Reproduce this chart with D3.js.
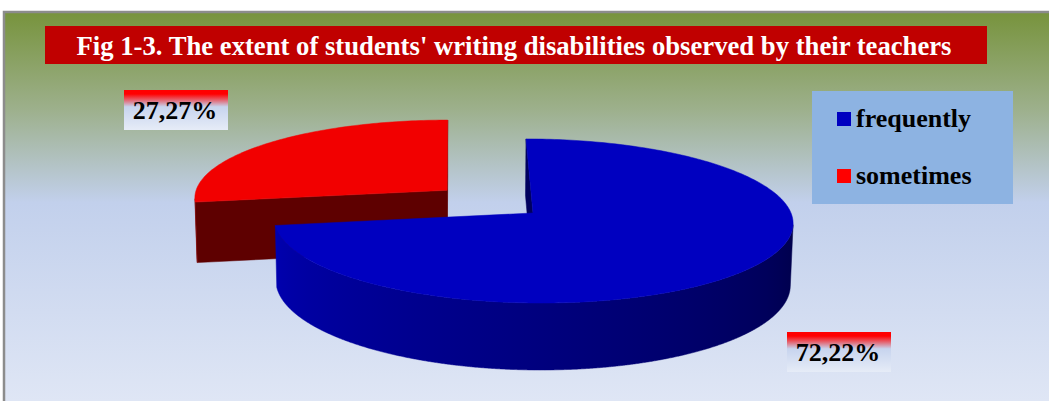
<!DOCTYPE html>
<html><head><meta charset="utf-8">
<script src="https://cdn.jsdelivr.net/npm/d3@7"></script>
<style>body{margin:0;background:#fff;} svg{display:block;}</style>
</head><body><svg id="c" width="1049" height="401"></svg>
<script>
// ---- data ----
const titleText = "Fig 1-3. The extent of students' writing disabilities observed by their teachers";
const categories = ["frequently", "sometimes"];
const values = [72.22, 27.27];
const valueLabels = ["72,22%", "27,27%"];

// ---- styles ----
const topColors = ["#0000c0", "#f20000"];
const cutColors = ["#00005e", "#5e0000"];
const wallRamps = [["#00004a", "#0000b2"], ["#4a0000", "#800000"]];
const legendColors = ["#0000c0", "#ff0000"];
const FONT = "'Liberation Serif','Times New Roman',serif";

const W = 1049, H = 401;
const svg = d3.select("#c");
const defs = svg.append("defs");

const bg = defs.append("linearGradient").attr("id", "bg")
  .attr("gradientUnits", "userSpaceOnUse").attr("x1", 0).attr("x2", 0).attr("y1", 12).attr("y2", 401);
[[0, "#77933c"], [0.25, "#9db08c"], [0.49, "#c2d0ec"], [1, "#dfe6f5"]].forEach(([o, c]) =>
  bg.append("stop").attr("offset", o).attr("stop-color", c));

const lg = defs.append("linearGradient").attr("id", "lbl").attr("x1", 0).attr("x2", 0).attr("y1", 0).attr("y2", 1);
[[0, "#ff0000"], [0.1, "#ff0000"], [0.42, "#c7d4ee"], [1, "#e6ecf7"]].forEach(([o, c]) =>
  lg.append("stop").attr("offset", o).attr("stop-color", c));

// chart area frame
svg.append("rect").attr("x", 4).attr("y", 12).attr("width", W + 20).attr("height", H + 20)
  .attr("fill", "url(#bg)").attr("stroke", "#8c8c8c").attr("stroke-width", 2.5);

// title
svg.append("rect").attr("x", 45).attr("y", 26).attr("width", 942).attr("height", 38).attr("fill", "#c00000");
svg.append("text").attr("x", 514).attr("y", 55).attr("text-anchor", "middle")
  .attr("font-family", FONT).attr("font-weight", "bold").attr("font-size", 27)
  .attr("fill", "#fff").attr("textLength", 875).attr("lengthAdjust", "spacingAndGlyphs")
  .text(titleText);

// ---- 3D pie projection ----
const tilt = Math.asin(0.315);
const sa = Math.sin(tilt), ca = Math.cos(tilt);
const P = { X0: 454.3, Y0: 213, f: 2513, D: 9.74, camX: -0.305, thick: 0.252, explode: [0, 0.44] };
const camPos = [P.camX, P.D * sa, P.D * ca];
function proj(p) {
  const [x, y, z] = p;
  const depth = P.D - (y * sa + z * ca);
  const up = y * ca - z * sa;
  return [P.X0 + P.f * (x - P.camX) / depth, P.Y0 - P.f * up / depth];
}
const dot = (a, b) => a[0] * b[0] + a[1] * b[1] + a[2] * b[2];
const sub = (a, b) => [a[0] - b[0], a[1] - b[1], a[2] - b[2]];
const line = d3.line();

const arcs = d3.pie().sort(null).value(d => d)(values).map((s, i) => {
  const mid = (s.startAngle + s.endAngle) / 2;
  const e = P.explode[i];
  return { ...s, i, cx: e * Math.sin(mid), cz: -e * Math.cos(mid) };
});
const rimPt = (s, th, y) => [s.cx + Math.sin(th), y, s.cz - Math.cos(th)];
const depthOf = s => P.D - s.cz * ca;
arcs.sort((a, b) => depthOf(b) - depthOf(a));

const g = svg.append("g");
const t = P.thick;
const visible = (n, pt) => dot(n, sub(camPos, pt)) > 0;
let gradId = 0;

arcs.forEach(s => {
  const sg = g.append("g");
  const a0 = s.startAngle, a1 = s.endAngle;
  const ctop = [s.cx, 0, s.cz], cbot = [s.cx, -t, s.cz];
  // cut walls
  [[a0, -1], [a1, 1]].forEach(([a, sign]) => {
    const n = [sign * Math.cos(a), 0, sign * Math.sin(a)];
    const m = rimPt(s, a, -t / 2); const mp = [(m[0] + s.cx) / 2, -t / 2, (m[2] + s.cz) / 2];
    if (!visible(n, mp)) return;
    const pts = [ctop, rimPt(s, a, 0), rimPt(s, a, -t), cbot].map(proj);
    sg.append("path").attr("d", line(pts) + "Z").attr("fill", cutColors[s.i])
      .attr("stroke", cutColors[s.i]).attr("stroke-width", 0.5);
  });
  // outer wall: contiguous visible runs, filled with a horizontal shading gradient
  const N = Math.ceil((a1 - a0) / (Math.PI / 720));
  const ths = d3.range(N + 1).map(k => a0 + (a1 - a0) * k / N);
  const vis = d3.range(N).map(k => {
    const tm = (ths[k] + ths[k + 1]) / 2;
    return visible([Math.sin(tm), 0, -Math.cos(tm)], rimPt(s, tm, -t / 2));
  });
  const ramp = d3.interpolateRgb(wallRamps[s.i][0], wallRamps[s.i][1]);
  const shade = th => ramp(Math.max(0, Math.min(1, (((th * 180 / Math.PI) % 360) - 96) / 168)));
  let k = 0;
  while (k < N) {
    if (!vis[k]) { k++; continue; }
    let j = k; while (j < N && vis[j]) j++;
    const run = ths.slice(k, j + 1);
    const topP = run.map(th => proj(rimPt(s, th, 0)));
    const botP = run.map(th => proj(rimPt(s, th, -t))).reverse();
    const xs = topP.map(p => p[0]);
    const xmin = d3.min(xs), xmax = d3.max(xs);
    const id = "wall" + (gradId++);
    const gr = defs.append("linearGradient").attr("id", id).attr("gradientUnits", "userSpaceOnUse")
      .attr("x1", xmin).attr("x2", xmax).attr("y1", 0).attr("y2", 0);
    const stops = d3.range(0, 21).map(q => {
      const th = run[0] + (run[run.length - 1] - run[0]) * q / 20;
      const x = proj(rimPt(s, th, 0))[0];
      return [xmax > xmin ? (x - xmin) / (xmax - xmin) : 0, shade(th)];
    }).sort((a, b) => a[0] - b[0]);
    stops.forEach(([o, c]) => gr.append("stop").attr("offset", o).attr("stop-color", c));
    sg.append("path").attr("d", line(topP.concat(botP)) + "Z")
      .attr("fill", `url(#${id})`).attr("stroke", `url(#${id})`).attr("stroke-width", 0.5);
    k = j;
  }
  // top face
  const M = Math.ceil((a1 - a0) / (Math.PI / 180));
  const tp = [ctop];
  for (let q = 0; q <= M; q++) tp.push(rimPt(s, a0 + (a1 - a0) * q / M, 0));
  sg.append("path").attr("d", line(tp.map(proj)) + "Z").attr("fill", topColors[s.i])
    .attr("stroke", topColors[s.i]).attr("stroke-width", 0.5);
});

// ---- data labels ----
const labelPos = [[787, 332], [124, 90]];
valueLabels.forEach((txt, i) => {
  const [x, y] = labelPos[i];
  const lgG = svg.append("g").attr("transform", `translate(${x},${y})`);
  lgG.append("rect").attr("width", 104).attr("height", 40).attr("fill", "url(#lbl)");
  lgG.append("text").attr("x", 51).attr("y", 29).attr("text-anchor", "middle")
    .attr("font-family", FONT).attr("font-weight", "bold").attr("font-size", 26).attr("fill", "#000")
    .text(txt);
});

// ---- legend ----
const leg = svg.append("g").attr("transform", "translate(812,91)");
leg.append("rect").attr("width", 201).attr("height", 113).attr("fill", "#8db3e2");
const ly = d3.scalePoint().domain(categories).range([28, 85]);
categories.forEach((c, i) => {
  leg.append("rect").attr("x", 25).attr("y", ly(c) - 7).attr("width", 14).attr("height", 14).attr("fill", legendColors[i]);
  leg.append("text").attr("x", 44).attr("y", ly(c) + 8)
    .attr("font-family", FONT).attr("font-weight", "bold").attr("font-size", 26).attr("fill", "#000").text(c);
});
</script></body></html>
